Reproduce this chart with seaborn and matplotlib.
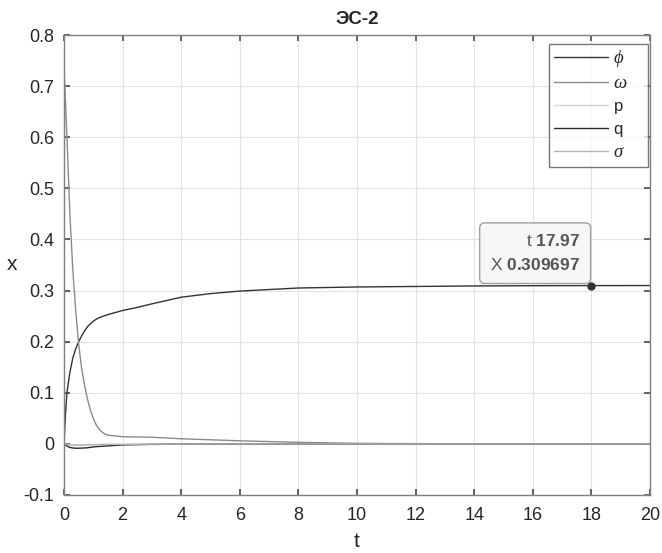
import numpy as np
import pandas as pd
import seaborn as sns
import matplotlib

matplotlib.use("Agg")
from matplotlib import pyplot as plt

t = [0, 0.05, 0.1, 0.2, 0.3, 0.4, 0.5, 0.6, 0.7, 0.8, 0.9, 1.0, 1.1, 1.2, 1.3, 1.4, 1.5, 2, 2.5, 3, 4, 5, 6,
     7, 8, 10, 12, 14, 16, 18, 20]
phi = [0, 0.058, 0.100, 0.140, 0.168, 0.186, 0.200, 0.211, 0.221, 0.229, 0.235, 0.240, 0.244, 0.247, 0.249,
       0.251, 0.253, 0.261, 0.267, 0.274, 0.287, 0.294, 0.299, 0.302, 0.305, 0.307, 0.308, 0.309, 0.3095,
       0.3097, 0.3098]
omega = [0.73, 0.67, 0.600, 0.450, 0.340, 0.260, 0.195, 0.148, 0.115, 0.088, 0.066, 0.050, 0.037, 0.029, 0.023,
         0.019, 0.017, 0.014, 0.0135, 0.013, 0.010, 0.008, 0.006, 0.0045, 0.003, 0.001, 0.0005, 0, 0, 0, 0]
p = [0, -0.0005, -0.001, -0.0015, -0.002, -0.002, -0.002, -0.002, -0.0019, -0.0018, -0.0016, -0.0015, -0.0013,
     -0.0012, -0.0011, -0.001, -0.001, -0.0008, -0.0006, -0.0005, -0.0003, -0.0002, -0.0001, 0, 0, 0, 0, 0, 0,
     0, 0]
q = [0, -0.002, -0.004, -0.007, -0.008, -0.0085, -0.0085, -0.0082, -0.008, -0.0075, -0.0068, -0.006, -0.0055,
     -0.005, -0.0046, -0.0043, -0.004, -0.002, -0.0015, -0.001, -0.0005, -0.0003, -0.0002, -0.0001, -0.0001,
     0, 0, 0, 0, 0, 0]
sigma = [0, -0.0005, -0.001, -0.002, -0.0025, -0.0025, -0.0025, -0.0024, -0.0022, -0.002, -0.0019, -0.0018,
         -0.0016, -0.0015, -0.0013, -0.0012, -0.0012, -0.001, -0.0008, -0.0006, -0.0004, -0.0002, -0.0001, 0,
         0, 0, 0, 0, 0, 0, 0]

labels = ["ϕ", "ω", "p", "q", "σ"]
greek = [True, True, False, False, True]
colors = ["#333333", "#8a8a8a", "#d4d4d4", "#2a2a2a", "#b4b4b4"]

tip_t = 17.97
tip_x = 0.309697

sns.set_theme(style="white")
plt.rcParams["font.family"] = ["Liberation Sans", "DejaVu Sans"]
plt.rcParams["mathtext.fontset"] = "custom"
plt.rcParams["mathtext.rm"] = "Liberation Sans"
plt.rcParams["mathtext.bf"] = "Liberation Sans:bold"

fig = plt.figure(figsize=(6.62, 5.53), dpi=100)
ax = fig.add_axes([0.0967, 0.1049, 0.8853, 0.8318])

for vals, lab, col in zip([phi, omega, p, q, sigma], labels, colors):
    sns.lineplot(x=t, y=vals, ax=ax, color=col, linewidth=1.0, label=lab + "   ")

ax.set_xlim(0, 20)
ax.set_ylim(-0.1, 0.8)
ax.set_xticks(np.arange(0, 21, 2))
ax.set_yticks(np.round(np.arange(-0.1, 0.81, 0.1), 1))
ax.set_yticklabels(["-0.1", "0", "0.1", "0.2", "0.3", "0.4", "0.5", "0.6", "0.7", "0.8"])
ax.grid(True, color="#e3e3e3", linewidth=0.8)
for s in ax.spines.values():
    s.set_color("#808080")
    s.set_linewidth(1.0)
ax.tick_params(direction="in", length=4, color="#505050", labelsize=13, labelcolor="#262626",
               top=True, right=True, bottom=True, left=True)
ax.tick_params(axis="y", pad=7)
ax.tick_params(axis="x", pad=9)
ax.set_xlabel("t", fontsize=15, color="#262626")
ax.set_ylabel("x", fontsize=15, color="#262626", rotation=0, ha="center", va="center")
ax.xaxis.set_label_coords(0.5, -0.08)
ax.yaxis.set_label_coords(-0.088, 0.5)
ax.set_title("ЭС-2", fontsize=13.5, fontweight="bold", color="#262626", pad=8)

leg = ax.legend(loc="upper right", bbox_to_anchor=(0.996, 0.98), frameon=True, fancybox=False,
                fontsize=12, handlelength=3.2, handletextpad=0.4, labelspacing=0.45,
                borderpad=0.35, borderaxespad=0)
leg.get_frame().set_edgecolor("#555555")
leg.get_frame().set_linewidth(1.0)
for txt, g in zip(leg.get_texts(), greek):
    txt.set_color("#262626")
    if g:
        txt.set_fontfamily(["Liberation Serif", "DejaVu Serif"])
        txt.set_fontstyle("italic")
        txt.set_fontsize(13.5)

ax.plot([tip_t], [tip_x], "o", color="#333333", markersize=5, zorder=5)
ax.annotate(f"t $\\mathbf{{{tip_t}}}$\nX $\\mathbf{{{tip_x}}}$", xy=(tip_t, tip_x), xytext=(-7.5, 9),
            textcoords="offset points", ha="right", va="bottom", fontsize=12.5, color="#555555",
            linespacing=1.6, multialignment="right",
            bbox=dict(boxstyle="round,pad=0.6,rounding_size=0.3", fc="#f7f7f7", ec="#a0a0a0", lw=1.0))

fig.savefig("out.png", dpi=100)
